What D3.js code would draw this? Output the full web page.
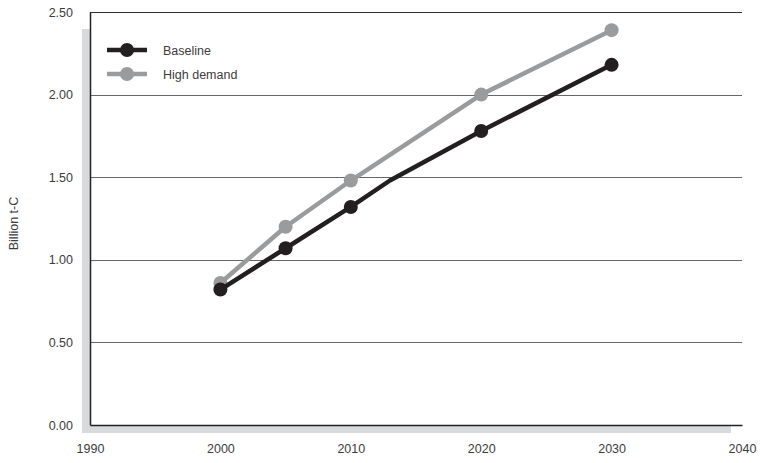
<!DOCTYPE html>
<html>
<head>
<meta charset="utf-8">
<script src="https://cdn.jsdelivr.net/npm/d3@7"></script>
<style>
  html, body { margin: 0; padding: 0; background: #fff; }
  svg { display: block; font-family: "Liberation Sans", Arial, sans-serif; }
</style>
</head>
<body>
<svg id="chart" width="762" height="463"></svg>
<script>
// Carbon emissions projections (billion tonnes of carbon)
const years = [2000, 2005, 2010, 2020, 2030];
const baseline = [0.82, 1.07, 1.32, 1.78, 2.18];
const highDemand = [0.86, 1.20, 1.48, 2.00, 2.39];
// extra unmarked vertex on the baseline path
const baselineBendYear = 2013;
const baselineBendValue = 1.48;

const xTicks = [1990, 2000, 2010, 2020, 2030, 2040];
const yTicks = [0, 0.5, 1.0, 1.5, 2.0, 2.5];
const seriesNames = ["Baseline", "High demand"];
const seriesColors = ["#231f20", "#9a9b9d"];
const yTitle = "Billion t-C";

const svg = d3.select("#chart");
const plotL = 90, plotR = 742, plotT = 12, plotB = 425;

const x = d3.scaleLinear().domain([1990, 2040]).range([plotL, plotR]);
const y = d3.scaleLinear().domain([0, 2.5]).range([plotB, plotT]);

// drop shadow behind the plotting area
svg.append("rect")
  .attr("x", plotL - 8).attr("y", plotT + 17)
  .attr("width", 731 - (plotL - 8)).attr("height", plotB + 8 - (plotT + 17))
  .attr("fill", "#d9dadb");
svg.append("rect")
  .attr("x", plotL).attr("y", plotT)
  .attr("width", plotR - plotL).attr("height", plotB - plotT)
  .attr("fill", "#fff");

// horizontal gridlines
svg.append("g").selectAll("line")
  .data(yTicks.filter(d => d > 0))
  .join("line")
  .attr("x1", plotL).attr("x2", plotR)
  .attr("y1", d => Math.round(y(d)) + 0.5).attr("y2", d => Math.round(y(d)) + 0.5)
  .attr("stroke", d => d === 2.5 ? "#333" : "#666")
  .attr("stroke-width", 1.2);

// axes
const yAxis = d3.axisLeft(y).tickValues(yTicks).tickFormat(d3.format(".2f")).tickSize(0).tickPadding(17);
const gy = svg.append("g").attr("transform", `translate(${plotL},0)`).call(yAxis);
gy.select(".domain").attr("stroke", "#222").attr("stroke-width", 1.5);
gy.selectAll("text").attr("font-size", 12.5).attr("fill", "#3c3c3c");

const xAxis = d3.axisBottom(x).tickValues(xTicks).tickFormat(d3.format("d")).tickSize(0).tickPadding(19);
const gx = svg.append("g").attr("transform", `translate(0,${plotB})`).call(xAxis);
gx.select(".domain").attr("stroke", "#222").attr("stroke-width", 1.5);
gx.selectAll("text").attr("font-size", 12.5).attr("fill", "#3c3c3c");

svg.append("text")
  .attr("transform", `translate(18,${(plotT + plotB) / 2 + 5}) rotate(-90)`)
  .attr("text-anchor", "middle")
  .attr("font-size", 12.5).attr("fill", "#3c3c3c")
  .text(yTitle);

// series
const line = d3.line().x(d => x(d[0])).y(d => y(d[1]));
const baselinePts = years.map((yr, i) => [yr, baseline[i]]);
const baselinePath = baselinePts.slice(0, 3)
  .concat([[baselineBendYear, baselineBendValue]], baselinePts.slice(3));
const highPts = years.map((yr, i) => [yr, highDemand[i]]);

const series = [
  { name: seriesNames[1], color: seriesColors[1], path: highPts, pts: highPts },
  { name: seriesNames[0], color: seriesColors[0], path: baselinePath, pts: baselinePts }
];

series.forEach(s => {
  svg.append("path")
    .attr("d", line(s.path))
    .attr("fill", "none")
    .attr("stroke", s.color)
    .attr("stroke-width", 4.5)
    .attr("stroke-linejoin", "round");
  svg.append("g").selectAll("circle")
    .data(s.pts).join("circle")
    .attr("cx", d => x(d[0])).attr("cy", d => y(d[1]))
    .attr("r", 7).attr("fill", s.color);
});

// legend
const legend = svg.append("g");
seriesNames.forEach((name, i) => {
  const ly = 50 + i * 24;
  legend.append("line")
    .attr("x1", 107).attr("x2", 147).attr("y1", ly).attr("y2", ly)
    .attr("stroke", seriesColors[i]).attr("stroke-width", 4.5);
  legend.append("circle").attr("cx", 127).attr("cy", ly).attr("r", 7).attr("fill", seriesColors[i]);
  legend.append("text")
    .attr("x", 163).attr("y", ly + 4.5)
    .attr("font-size", 12.5).attr("fill", "#3c3c3c")
    .text(name);
});
</script>
</body>
</html>
